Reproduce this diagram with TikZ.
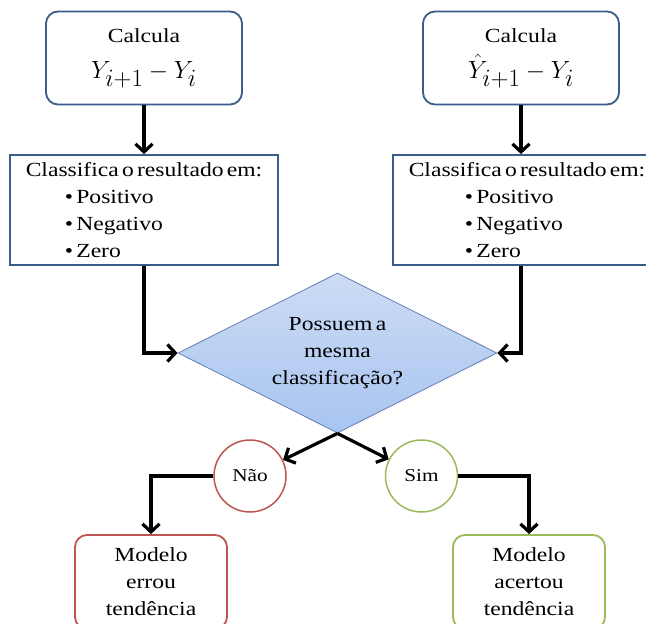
\documentclass[tikz,border=0pt]{standalone}
\usepackage{fontspec}
\setmainfont[FakeStretch=1.18, WordSpace=0.55]{Liberation Serif}
\DeclareMathSizes{30}{30}{23}{18}
\usepackage{tikz}
\usetikzlibrary{arrows.meta, positioning, shapes.geometric}
\definecolor{BoxBlue}{RGB}{56, 93, 138}
\definecolor{DiaBlue}{RGB}{100, 130, 178}
\definecolor{DiaTop}{RGB}{205, 220, 245}
\definecolor{DiaBottom}{RGB}{168, 196, 240}
\definecolor{NoRed}{RGB}{190, 85, 82}
\definecolor{YesGreen}{RGB}{155, 187, 89}

\tikzset{
  calcbox/.style={draw=BoxBlue, line width=1.8pt, rounded corners=12pt,
    minimum width=196pt, minimum height=93pt, align=center},
  classbox/.style={draw=BoxBlue, line width=1.8pt, minimum width=268pt,
    minimum height=110pt, align=left, inner ysep=0pt},
  answer/.style={circle, line width=1.5pt, minimum size=72pt, inner sep=0pt,
    font=\fontsize{18}{20}\selectfont},
  resultbox/.style={line width=1.8pt, rounded corners=12pt,
    minimum width=152pt, minimum height=94pt, align=center},
  flow/.style={line width=3.2pt, -{Straight Barb[length=8pt, width=17pt]}}
}

\begin{document}
\begin{tikzpicture}[x=1pt, y=-1pt, font=\fontsize{20}{27}\selectfont]
    \useasboundingbox (0,0) rectangle (646,624);
    \clip (0,0) rectangle (646,624);

    % calculos
    \node[calcbox] (calcL) at (144,58)
      {Calcula\\[9pt]{\fontsize{30}{30}\selectfont $Y_{i+1}-Y_i$}};
    \node[calcbox] (calcR) at (521,58)
      {Calcula\\[9pt]{\fontsize{30}{30}\selectfont $\hat{Y}_{i+1}-Y_i$}};

    % classificacao
    \node[classbox] (classL) at (144,210) {%
      Classifica o resultado em:\\
      \hspace*{39pt}\textbullet\,Positivo\\
      \hspace*{39pt}\textbullet\,Negativo\\
      \hspace*{39pt}\textbullet\,Zero};
    \node[classbox] (classR) at (527,210) {%
      Classifica o resultado em:\\
      \hspace*{56pt}\textbullet\,Positivo\\
      \hspace*{56pt}\textbullet\,Negativo\\
      \hspace*{56pt}\textbullet\,Zero};

    % decisao
    \node[diamond, draw=DiaBlue, line width=0.8pt, top color=DiaTop,
      bottom color=DiaBottom, aspect=2, inner sep=0pt,
      minimum width=319pt, minimum height=160pt, align=center] (check)
      at (337.5,353) {Possuem a\\mesma\\classificação?};

    \node[answer, draw=NoRed] (nao) at (250,476) {Não};
    \node[answer, draw=YesGreen] (sim) at (421.5,476) {Sim};

    \node[resultbox, draw=NoRed] (errou) at (151,582)
      {Modelo\\errou\\tendência};
    \node[resultbox, draw=YesGreen] (acertou) at (529,582)
      {Modelo\\acertou\\tendência};

    % ligacoes
    \draw[flow] (calcL.south) -- (classL.north);
    \draw[flow] (calcR.south) -- (calcR.south |- classR.north);
    \draw[flow] (classL.south) |- (check.west);
    \draw[flow] (calcR.south |- classR.south) |- (check.east);
    \draw[flow] (check.south) -- (nao);
    \draw[flow] (check.south) -- (sim);
    \draw[flow] (nao.west) -| (errou.north);
    \draw[flow] (sim.east) -| (acertou.north);
\end{tikzpicture}
\end{document}
